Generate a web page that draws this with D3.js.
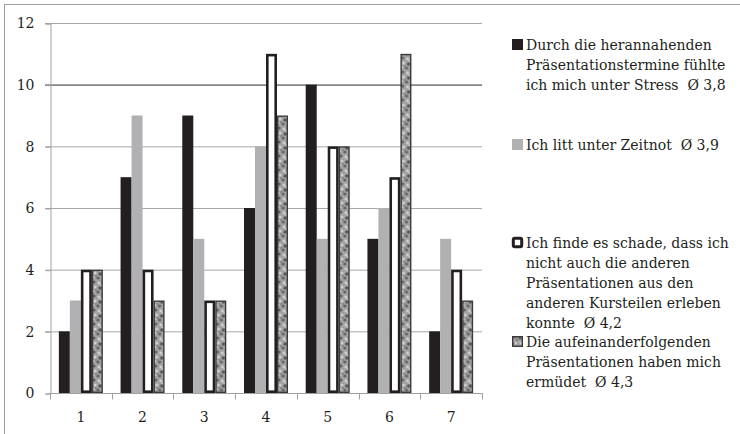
<!DOCTYPE html>
<html>
<head>
<meta charset="utf-8">
<script src="https://cdn.jsdelivr.net/npm/d3@7"></script>
<style>
  html, body { margin: 0; padding: 0; background: #fff; }
  svg { display: block; }
  text { font-family: "DejaVu Serif", serif; fill: #231f20; white-space: pre; }
</style>
</head>
<body>
<svg id="chart" width="740" height="434"></svg>
<script>
// Antworten je Skalenwert (1–7) für vier Aussagen
const categories = ["1", "2", "3", "4", "5", "6", "7"];
const stress      = [2, 7, 9, 6, 10, 5, 2];
const zeitnot     = [3, 9, 5, 8, 5, 6, 5];
const schade      = [4, 4, 3, 11, 8, 7, 4];
const ermuedet    = [4, 3, 3, 9, 8, 11, 3];
const yTicks = [0, 2, 4, 6, 8, 10, 12];

const seriesNames = ["stress", "zeitnot", "schade", "ermuedet"];
const seriesValues = [stress, zeitnot, schade, ermuedet];
const legendLines = [
  ["Durch die herannahenden", "Präsentationstermine fühlte", "ich mich unter Stress  Ø 3,8"],
  ["Ich litt unter Zeitnot  Ø 3,9"],
  ["Ich finde es schade, dass ich", "nicht auch die anderen", "Präsentationen aus den", "anderen Kursteilen erleben", "konnte  Ø 4,2"],
  ["Die aufeinanderfolgenden", "Präsentationen haben mich", "ermüdet  Ø 4,3"]
];

const svg = d3.select("#chart");

// Speckled texture for the fourth series
const defs = svg.append("defs");
const pat = defs.append("pattern")
  .attr("id", "speckle").attr("patternUnits", "userSpaceOnUse")
  .attr("width", 14).attr("height", 14);
pat.append("rect").attr("width", 14).attr("height", 14).attr("fill", "#a2a2a2");
const dots = [
  [2, 2, 1.6, "#5e5e5e"], [7, 3, 1.4, "#d2d2d2"], [11, 1, 1.5, "#6e6e6e"],
  [3, 7, 1.5, "#d0d0d0"], [8, 8, 1.8, "#585858"], [12, 7, 1.2, "#cacaca"],
  [1, 11, 1.3, "#d6d6d6"], [6, 12, 1.6, "#636363"], [11, 12, 1.4, "#d0d0d0"],
  [4, 10, 0.9, "#7a7a7a"], [13, 4, 0.9, "#6a6a6a"], [9, 5, 0.8, "#e6e6e6"]
];
dots.forEach(d => pat.append("circle")
  .attr("cx", d[0]).attr("cy", d[1]).attr("r", d[2]).attr("fill", d[3]));

// Outer frame (right and bottom edges run past the page)
svg.append("rect")
  .attr("x", 4.5).attr("y", 4.5).attr("width", 760).attr("height", 440)
  .attr("fill", "none").attr("stroke", "#a0a0a0").attr("stroke-width", 1);

const plotLeft = 50, plotRight = 482, plotTop = 23, plotBottom = 393;

const y = d3.scaleLinear().domain([0, 12]).range([plotBottom, plotTop]);
const x0 = d3.scaleBand().domain(categories).range([plotLeft, plotRight]).padding(0);
const bw = x0.bandwidth();
const x1 = d3.scaleBand().domain(seriesNames)
  .range([bw / 2 - 22, bw / 2 + 22]).padding(0);

// Gridlines
svg.append("g").selectAll("line").data(yTicks.filter(t => t > 0)).join("line")
  .attr("x1", plotLeft - 5).attr("x2", plotRight)
  .attr("y1", d => y(d) + 0.5).attr("y2", d => y(d) + 0.5)
  .attr("stroke", d => d === 10 ? "#858585" : "#a8a8a8")
  .attr("stroke-width", d => d === 10 ? 1.6 : 1);

// Y axis
const yAxis = svg.append("g").attr("transform", `translate(${plotLeft + 0.5},0.5)`)
  .call(d3.axisLeft(y).tickValues(yTicks).tickSize(5).tickPadding(11));
yAxis.select(".domain").attr("stroke", "#a0a0a0");
yAxis.selectAll(".tick line").attr("stroke", "#a0a0a0");
yAxis.selectAll(".tick text")
  .attr("font-family", "DejaVu Serif, serif").attr("font-size", 14).attr("fill", "#231f20");

// X axis with ticks at the category boundaries
const xAxisG = svg.append("g").attr("transform", `translate(0,${plotBottom + 0.5})`);
xAxisG.append("line").attr("x1", plotLeft).attr("x2", plotRight + 1)
  .attr("stroke", "#a0a0a0");
const bounds = categories.map(c => x0(c)).concat([x0(categories[categories.length - 1]) + bw]);
xAxisG.selectAll("line.tk").data(bounds).join("line").attr("class", "tk")
  .attr("x1", d => Math.round(d) + 0.5).attr("x2", d => Math.round(d) + 0.5)
  .attr("y1", 0).attr("y2", 6).attr("stroke", "#a0a0a0");
xAxisG.selectAll("text").data(categories).join("text")
  .attr("x", d => x0(d) + bw / 2).attr("y", 28.5)
  .attr("text-anchor", "middle").attr("font-size", 14).text(d => d);

// Bars
const styles = {
  stress:   { fill: "#231f20", stroke: "none", sw: 0 },
  zeitnot:  { fill: "#b1b1b3", stroke: "none", sw: 0 },
  schade:   { fill: "#ffffff", stroke: "#231f20", sw: 2.6 },
  ermuedet: { fill: "url(#speckle)", stroke: "#3a3a3a", sw: 1.4 }
};

const groups = svg.append("g").selectAll("g").data(categories).join("g")
  .attr("transform", d => `translate(${x0(d)},0)`);

groups.selectAll("rect")
  .data((c, i) => seriesNames.map((s, k) => ({ s, v: seriesValues[k][i] })))
  .join("rect")
  .each(function (d) {
    const st = styles[d.s];
    const inset = st.sw / 2;
    d3.select(this)
      .attr("x", x1(d.s) + inset)
      .attr("y", y(d.v) + inset)
      .attr("width", x1.bandwidth() - st.sw)
      .attr("height", y(0) - y(d.v) - st.sw)
      .attr("fill", st.fill)
      .attr("stroke", st.stroke)
      .attr("stroke-width", st.sw);
  });

// Legend
const legendX = 512, markerSize = 11;
const legendBaselines = [50, 150, 248, 347];
const legend = svg.append("g");
seriesNames.forEach((s, k) => {
  const st = styles[s];
  const base = legendBaselines[k];
  const inset = st.sw / 2;
  legend.append("rect")
    .attr("x", legendX + inset).attr("y", base - markerSize + inset)
    .attr("width", markerSize - st.sw).attr("height", markerSize - st.sw)
    .attr("rx", s === "schade" ? 1.5 : 0)
    .attr("fill", st.fill).attr("stroke", st.stroke)
    .attr("stroke-width", s === "schade" ? 3 : st.sw);
  legendLines[k].forEach((line, j) => {
    legend.append("text")
      .attr("x", legendX + 14).attr("y", base + j * 20)
      .attr("font-size", 14).text(line);
  });
});
</script>
</body>
</html>
